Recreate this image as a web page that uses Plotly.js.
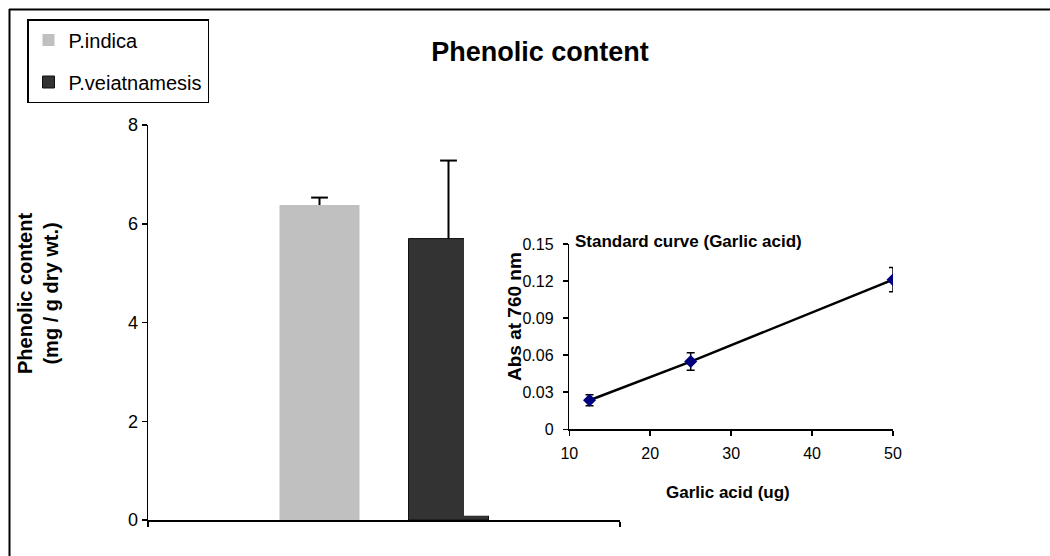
<!DOCTYPE html>
<html>
<head>
<meta charset="utf-8">
<script src="https://cdn.plot.ly/plotly-3.0.1.min.js"></script>
<style>html,body{margin:0;padding:0;background:#fff;}#chart{width:1050px;height:556px;}</style>
</head>
<body>
<div id="chart"></div>
<script>
// ---- Data ----
const categories = ['Phenolic content'];
const seriesNames = ['P.indica', 'P.veiatnamesis'];
const indicaValues = [6.38];
const indicaErr = [0.15];
const vietValues = [5.70];
const vietErr = [1.58];

const garlicAmount = [12.5, 25, 50];
const absValues = [0.0235, 0.0548, 0.1211];
const absErr = [0.0045, 0.0071, 0.0098];

const mainTickVals = [0, 2, 4, 6, 8];
const insetXTicks = [10, 20, 30, 40, 50];
const insetYTicks = [0, 0.03, 0.06, 0.09, 0.12, 0.15];

// ---- Layout helpers (pixel -> paper, margins are zero) ----
const W = 1050, H = 556;
const px = v => v / W;
const py = v => 1 - v / H;
const FONT = 'Liberation Sans, Arial, sans-serif';
const BARGAP = 0.4534;

const upper = (vals, errs) => vals.map((v, i) => v + errs[i]);

const traces = [
  {
    type: 'bar', name: seriesNames[0], x: categories, y: indicaValues, offsetgroup: 'a',
    marker: {color: '#c0c0c0', line: {width: 0}},
    error_y: {type: 'data', array: indicaErr, arrayminus: [0], symmetric: false, color: '#000', thickness: 2, width: 0},
    xaxis: 'x', yaxis: 'y', legendgroup: 'a', hoverinfo: 'skip'
  },
  {
    type: 'bar', name: seriesNames[1], x: categories, y: vietValues, offsetgroup: 'b',
    marker: {color: '#333333', line: {width: 1, color: '#111'}},
    error_y: {type: 'data', array: vietErr, arrayminus: [0], symmetric: false, color: '#000', thickness: 2, width: 0},
    xaxis: 'x', yaxis: 'y', legendgroup: 'b', hoverinfo: 'skip'
  },
  // error-bar caps (plus side only)
  {
    type: 'scatter', mode: 'markers', x: categories, y: upper(indicaValues, indicaErr), offsetgroup: 'a',
    marker: {symbol: 'line-ew', size: 12, color: '#000', line: {width: 2, color: '#000'}},
    xaxis: 'x', yaxis: 'y', showlegend: false, hoverinfo: 'skip'
  },
  {
    type: 'scatter', mode: 'markers', x: categories, y: upper(vietValues, vietErr), offsetgroup: 'b',
    marker: {symbol: 'line-ew', size: 12, color: '#000', line: {width: 2, color: '#000'}},
    xaxis: 'x', yaxis: 'y', showlegend: false, hoverinfo: 'skip'
  },
  // white panel of the inserted standard-curve chart
  {
    type: 'scatter', x: [null], y: [null], xaxis: 'x2', yaxis: 'y2',
    showlegend: false, hoverinfo: 'skip'
  },
  {
    type: 'scatter', mode: 'lines+markers', x: garlicAmount, y: absValues,
    xaxis: 'x3', yaxis: 'y3', showlegend: false, hoverinfo: 'skip',
    line: {color: '#000', width: 2.5},
    marker: {symbol: 'diamond', size: 10, color: '#000080'},
    error_y: {type: 'data', array: absErr, color: '#000', thickness: 1.5, width: 4}
  }
];

const layout = {
  width: W, height: H,
  margin: {l: 0, r: 0, t: 0, b: 0},
  paper_bgcolor: '#fff', plot_bgcolor: '#fff',
  font: {family: FONT, color: '#000', size: 18},
  barmode: 'group', bargap: BARGAP, bargroupgap: 0.38,
  scattermode: 'group', scattergap: BARGAP,
  title: {
    text: 'Phenolic content', font: {family: FONT, size: 27, weight: 'bold', color: '#000'},
    xref: 'container', yref: 'container', x: px(540), y: py(52), xanchor: 'center', yanchor: 'middle'
  },
  showlegend: true,
  legend: {
    xref: 'paper', yref: 'paper', x: px(27), y: py(19), xanchor: 'left', yanchor: 'top',
    bgcolor: '#fff', bordercolor: '#000', borderwidth: 1.5,
    font: {family: FONT, size: 20, color: '#000'},
    traceorder: 'grouped', tracegroupgap: 13
  },
  xaxis: {
    domain: [px(148), px(620)], anchor: 'y', type: 'category', range: [-0.5, 0.5],
    showticklabels: false, ticks: 'outside', tickson: 'boundaries', ticklen: 5, tickwidth: 1.5, tickcolor: '#000',
    showline: true, linecolor: '#000', linewidth: 1.5, showgrid: false, zeroline: false, fixedrange: true
  },
  yaxis: {
    domain: [py(520), py(125)], anchor: 'x', range: [0, 8], tickvals: mainTickVals,
    ticks: 'outside', ticklen: 5, tickwidth: 1.5, tickcolor: '#000', ticklabelstandoff: 0,
    tickfont: {family: FONT, size: 18, color: '#000'},
    showline: true, linecolor: '#000', linewidth: 1.5, showgrid: false, zeroline: false, fixedrange: true
  },
  xaxis2: {
    domain: [px(464), px(935)], anchor: 'y2', range: [0, 1],
    showline: false, showgrid: false, zeroline: false, showticklabels: false, ticks: '', fixedrange: true
  },
  yaxis2: {
    domain: [py(515.7), py(200)], anchor: 'x2', range: [0, 1],
    showline: false, showgrid: false, zeroline: false, showticklabels: false, ticks: '', fixedrange: true
  },
  xaxis3: {
    domain: [px(569.3), px(893)], anchor: 'y3', range: [10, 50], tickvals: insetXTicks,
    ticks: 'outside', ticklen: 5, tickwidth: 1.5, tickcolor: '#000', ticklabelstandoff: 4,
    tickfont: {family: FONT, size: 16, color: '#000'},
    showline: true, linecolor: '#000', linewidth: 1.5, showgrid: false, zeroline: false, fixedrange: true
  },
  yaxis3: {
    domain: [py(429.3), py(244)], anchor: 'x3', range: [0, 0.15], tickvals: insetYTicks,
    ticktext: insetYTicks.map(v => v === 0 ? '0' : v.toFixed(2)),
    ticks: 'outside', ticklen: 5, tickwidth: 1.5, tickcolor: '#000', ticklabelstandoff: 6,
    tickfont: {family: FONT, size: 16, color: '#000'},
    showline: true, linecolor: '#000', linewidth: 1.5, showgrid: false, zeroline: false, fixedrange: true
  },
  annotations: [
    {
      text: 'Phenolic content<br>(mg / g dry wt.)', textangle: -90,
      xref: 'paper', yref: 'paper', x: px(37.5), y: py(293.5), xanchor: 'center', yanchor: 'middle',
      showarrow: false, font: {family: FONT, size: 20, weight: 'bold', color: '#000'}
    },
    {
      text: 'Standard curve (Garlic acid)',
      xref: 'paper', yref: 'paper', x: px(573), y: py(242), xanchor: 'left', yanchor: 'middle',
      showarrow: false, font: {family: FONT, size: 17, weight: 'bold', color: '#000'}
    },
    {
      text: 'Abs at 760 nm', textangle: -90,
      xref: 'paper', yref: 'paper', x: px(514), y: py(317), xanchor: 'center', yanchor: 'middle',
      showarrow: false, font: {family: FONT, size: 19, weight: 'bold', color: '#000'}
    },
    {
      text: 'Garlic acid (ug)',
      xref: 'paper', yref: 'paper', x: px(728), y: py(492), xanchor: 'center', yanchor: 'middle',
      showarrow: false, font: {family: FONT, size: 17, weight: 'bold', color: '#000'}
    }
  ],
  shapes: [
    {type: 'line', xref: 'paper', yref: 'paper', x0: px(9), x1: 1, y0: py(9.5), y1: py(9.5), line: {color: '#000', width: 2}, layer: 'above'},
    {type: 'line', xref: 'paper', yref: 'paper', x0: px(9.5), x1: px(9.5), y0: py(9), y1: 0, line: {color: '#000', width: 2}, layer: 'above'}
  ]
};

Plotly.newPlot('chart', traces, layout, {displayModeBar: false, staticPlot: true});
</script>
</body>
</html>
